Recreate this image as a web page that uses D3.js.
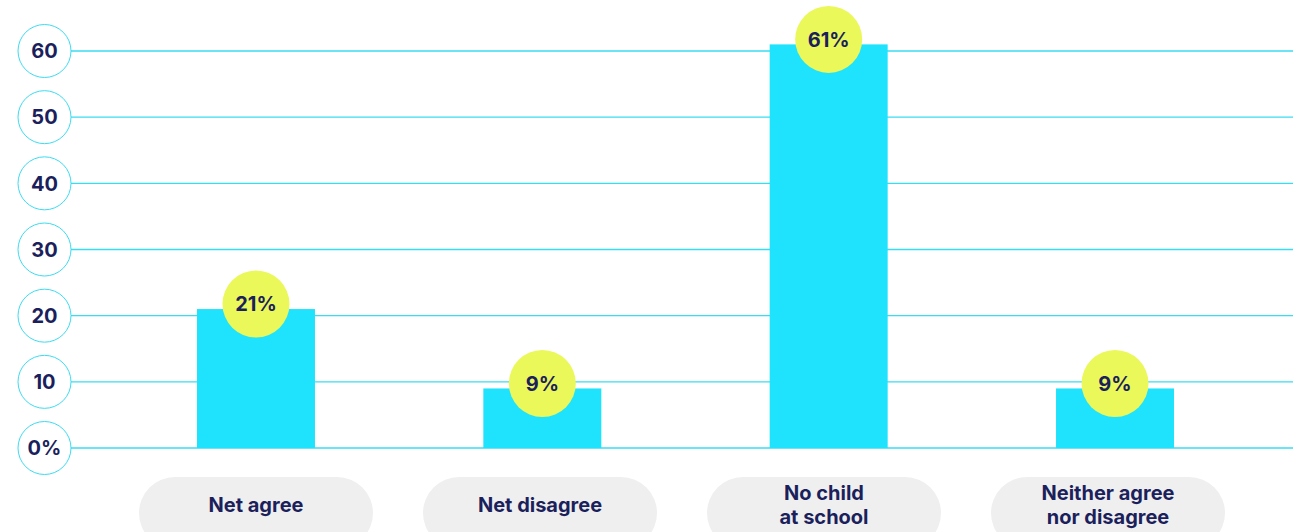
<!DOCTYPE html>
<html>
<head>
<meta charset="utf-8">
<script src="https://cdn.jsdelivr.net/npm/d3@7"></script>
<style>
  html, body { margin: 0; padding: 0; background: #ffffff; }
  svg { display: block; }
  text { font-family: Inter, "Noto Sans", sans-serif; font-weight: 700; fill: #1b1f5c; }
</style>
</head>
<body>
<svg id="chart" width="1293" height="532"></svg>
<script>
// Survey responses (percent of respondents)
const categories = ["Net agree", "Net disagree", "No child at school", "Neither agree nor disagree"];
const categoryLines = [["Net agree"], ["Net disagree"], ["No child", "at school"], ["Neither agree", "nor disagree"]];
const values = [21, 9, 61, 9];
const valueLabels = ["21%", "9%", "61%", "9%"];
const tickValues = [0, 10, 20, 30, 40, 50, 60];
const tickLabels = ["0%", "10", "20", "30", "40", "50", "60"];

const W = 1293, H = 532;
const svg = d3.select("#chart");

const x = d3.scaleBand()
  .domain(categories)
  .range([112.8, 1258.2])
  .paddingInner(0.588)
  .paddingOuter(0.294);

// Category pills sit on a slightly tighter spacing than the bars
const xPill = d3.scalePoint()
  .domain(categories)
  .range([256, 1108]);

const y = d3.scaleLinear().domain([0, 60]).range([448, 51]);

const cyan = "#1fe3fc";
const gridCyan = "#3adcf2";

// Horizontal gridlines
svg.append("g").selectAll("line")
  .data(tickValues)
  .join("line")
  .attr("x1", 71).attr("x2", W)
  .attr("y1", d => y(d)).attr("y2", d => y(d))
  .attr("stroke", gridCyan)
  .attr("stroke-width", 1.3);

// Circled y-axis tick labels
const ticks = svg.append("g").selectAll("g")
  .data(tickValues)
  .join("g")
  .attr("transform", d => `translate(44.5,${y(d)})`);
ticks.append("circle")
  .attr("r", 26.5)
  .attr("fill", "#ffffff")
  .attr("stroke", gridCyan)
  .attr("stroke-width", 1);
ticks.append("text")
  .attr("text-anchor", "middle")
  .attr("dy", "0.36em")
  .attr("font-size", 20)
  .text((d, i) => tickLabels[i]);

// Bars
svg.append("g").selectAll("rect")
  .data(values)
  .join("rect")
  .attr("x", (d, i) => x(categories[i]))
  .attr("width", x.bandwidth())
  .attr("y", d => y(d))
  .attr("height", d => y(0) - y(d))
  .attr("fill", cyan);

// Value badges
const badges = svg.append("g").selectAll("g")
  .data(values)
  .join("g")
  .attr("transform", (d, i) => `translate(${x(categories[i]) + x.bandwidth() / 2},${y(d) - 5})`);
badges.append("circle")
  .attr("r", 33.5)
  .attr("fill", "#ebf85a");
badges.append("text")
  .attr("text-anchor", "middle")
  .attr("dy", "0.36em")
  .attr("font-size", 20)
  .text((d, i) => valueLabels[i]);

// Category pills
const pills = svg.append("g").selectAll("g")
  .data(categories)
  .join("g")
  .attr("transform", d => `translate(${xPill(d)},477)`);
pills.append("rect")
  .attr("x", -117)
  .attr("width", 234)
  .attr("height", 72)
  .attr("rx", 36)
  .attr("fill", "#efefef");
pills.each(function(d, i) {
  const lines = categoryLines[i];
  const g = d3.select(this);
  const startY = lines.length === 1 ? 28 : 16;
  lines.forEach((line, j) => {
    g.append("text")
      .attr("text-anchor", "middle")
      .attr("y", startY + j * 24)
      .attr("dy", "0.36em")
      .attr("font-size", 20)
      .text(line);
  });
});
</script>
</body>
</html>
